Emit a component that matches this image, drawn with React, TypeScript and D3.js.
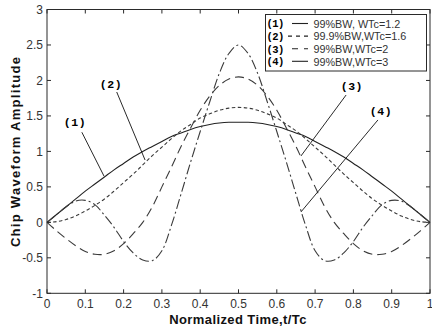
import React, { useEffect, useRef } from 'react'
import * as d3 from 'd3'

const width = 432
const height = 329
const left = 47
const right = 430
const top = 9.5
const bottom = 293.3

// normalized time t/Tc, read every 0.025
const timeSteps = [
  0, 0.025, 0.05, 0.075, 0.1, 0.125, 0.15, 0.175, 0.2, 0.225, 0.25,
  0.275, 0.3, 0.325, 0.35, 0.375, 0.4, 0.425, 0.45, 0.475, 0.5,
  0.525, 0.55, 0.575, 0.6, 0.625, 0.65, 0.675, 0.7, 0.725, 0.75,
  0.775, 0.8, 0.825, 0.85, 0.875, 0.9, 0.925, 0.95, 0.975, 1
]

// (1) 99%BW, WTc=1.2
const wave1 = [
  0, 0.11, 0.22, 0.33, 0.44, 0.54, 0.64, 0.74, 0.83, 0.92, 1.0,
  1.07, 1.14, 1.21, 1.26, 1.31, 1.35, 1.38, 1.4, 1.41, 1.41,
  1.41, 1.4, 1.38, 1.35, 1.31, 1.26, 1.21, 1.14, 1.07, 1.0,
  0.92, 0.83, 0.74, 0.64, 0.54, 0.44, 0.33, 0.22, 0.11, 0
]
// (2) 99.9%BW, WTc=1.6
const wave2 = [
  0, 0.01, 0.04, 0.09, 0.16, 0.24, 0.33, 0.44, 0.56, 0.68, 0.81,
  0.94, 1.06, 1.18, 1.29, 1.38, 1.47, 1.53, 1.58, 1.61, 1.62,
  1.61, 1.58, 1.53, 1.47, 1.38, 1.29, 1.18, 1.06, 0.94, 0.81,
  0.68, 0.56, 0.44, 0.33, 0.24, 0.16, 0.09, 0.04, 0.01, 0
]
// (3) 99%BW, WTc=2
const wave3 = [
  0, -0.12, -0.23, -0.33, -0.41, -0.45, -0.45, -0.4, -0.3, -0.16, 0,
  0.22, 0.5, 0.78, 1.07, 1.33, 1.58, 1.78, 1.93, 2.02, 2.05,
  2.02, 1.93, 1.78, 1.58, 1.33, 1.07, 0.78, 0.5, 0.22, 0,
  -0.16, -0.3, -0.4, -0.45, -0.45, -0.41, -0.33, -0.23, -0.12, 0
]
// (4) 99%BW, WTc=3
const wave4 = [
  0, 0.11, 0.22, 0.3, 0.31, 0.25, 0.1, -0.07, -0.27, -0.43, -0.53,
  -0.54, -0.4, -0.04, 0.4, 0.85, 1.28, 1.7, 2.1, 2.38, 2.5,
  2.38, 2.1, 1.7, 1.28, 0.85, 0.4, -0.04, -0.4, -0.54, -0.53,
  -0.43, -0.27, -0.07, 0.1, 0.25, 0.31, 0.3, 0.22, 0.11, 0
]

const waves = [wave1, wave2, wave3, wave4]
const tags = ['(1)', '(2)', '(3)', '(4)']
const legendNames = ['99%BW, WTc=1.2', '99.9%BW,WTc=1.6', '99%BW,WTc=2', '99%BW,WTc=3']
const dashes = ['', '3.5,2.5', '9,5', '10,3,2,3']
const legendDashes = ['', '4,4', '6,6', '']

const xTicks = [0, 0.1, 0.2, 0.3, 0.4, 0.5, 0.6, 0.7, 0.8, 0.9, 1]
const yTicks = [-1, -0.5, 0, 0.5, 1, 1.5, 2, 2.5, 3]

// callouts in data units: label spot, pointer start, pointer end
const calloutLabel = [[0.073, 1.36], [0.167, 1.887], [0.796, 1.872], [0.872, 1.513]]
const calloutFrom = [[0.091, 1.27], [0.182, 1.837], [0.781, 1.795], [0.864, 1.443]]
const calloutTo = [[0.149, 0.65], [0.256, 0.879], [0.663, 0.935], [0.663, 0.146]]

const ink = '#2a2a2a'
const sans = '"Liberation Sans", Arial, sans-serif'
const mono = '"Liberation Mono", "Courier New", monospace'

export default function App() {
  const ref = useRef<SVGSVGElement>(null)

  useEffect(() => {
    const svg = d3.select(ref.current)
    svg.selectAll('*').remove()

    const x = d3.scaleLinear().domain([0, 1]).range([left, right])
    const y = d3.scaleLinear().domain([-1, 3]).range([bottom, top])

    svg.append('rect').attr('width', width).attr('height', height).attr('fill', '#fff')

    // curves
    const line = d3.line<number>()
      .x((d, i) => x(timeSteps[i]))
      .y(d => y(d))
      .curve(d3.curveCatmullRom)

    waves.forEach((w, i) => {
      svg.append('path')
        .attr('d', line(w))
        .attr('fill', 'none')
        .attr('stroke', i === 0 ? '#222' : '#3a3a3a')
        .attr('stroke-width', 1.1)
        .attr('stroke-dasharray', dashes[i] || null)
    })

    // box + inner ticks
    const axes = svg.append('g').attr('stroke', ink).attr('stroke-width', 1)
    axes.append('rect')
      .attr('x', left).attr('y', top)
      .attr('width', right - left).attr('height', bottom - top)
      .attr('fill', 'none')
    xTicks.forEach(t => {
      axes.append('line').attr('x1', x(t)).attr('x2', x(t)).attr('y1', bottom).attr('y2', bottom - 4)
      axes.append('line').attr('x1', x(t)).attr('x2', x(t)).attr('y1', top).attr('y2', top + 4)
    })
    yTicks.forEach(v => {
      axes.append('line').attr('x1', left).attr('x2', left + 4).attr('y1', y(v)).attr('y2', y(v))
      axes.append('line').attr('x1', right).attr('x2', right - 4).attr('y1', y(v)).attr('y2', y(v))
    })

    svg.append('g').selectAll('text').data(xTicks).enter().append('text')
      .attr('x', d => x(d)).attr('y', bottom + 15)
      .attr('text-anchor', 'middle')
      .attr('font-family', sans).attr('font-size', 12).attr('fill', '#333')
      .text(d => String(d))

    svg.append('g').selectAll('text').data(yTicks).enter().append('text')
      .attr('x', left - 4).attr('y', d => y(d) + 4.3)
      .attr('text-anchor', 'end')
      .attr('font-family', sans).attr('font-size', 12).attr('fill', '#333')
      .text(d => String(d))

    // axis titles
    svg.append('text')
      .attr('x', 238).attr('y', 324)
      .attr('text-anchor', 'middle')
      .attr('font-family', sans).attr('font-size', 13).attr('font-weight', 'bold')
      .attr('letter-spacing', 0.4).attr('fill', '#111')
      .text('Normalized Time,t/Tc')

    svg.append('text')
      .attr('transform', `translate(20,${(top + bottom) / 2}) rotate(-90)`)
      .attr('text-anchor', 'middle')
      .attr('font-family', sans).attr('font-size', 13).attr('font-weight', 'bold')
      .attr('letter-spacing', 1.3).attr('fill', '#111')
      .text('Chip Waveform Amplitude')

    // callouts
    tags.forEach((tag, i) => {
      svg.append('line')
        .attr('x1', x(calloutFrom[i][0])).attr('y1', y(calloutFrom[i][1]))
        .attr('x2', x(calloutTo[i][0])).attr('y2', y(calloutTo[i][1]))
        .attr('stroke', '#111').attr('stroke-width', 0.9)
      svg.append('text')
        .attr('x', x(calloutLabel[i][0])).attr('y', y(calloutLabel[i][1]))
        .attr('text-anchor', 'middle')
        .attr('font-family', mono).attr('font-size', 11.5).attr('font-weight', 'bold')
        .attr('letter-spacing', 0.5).attr('fill', '#000')
        .text(tag)
    })

    // legend
    const lg = svg.append('g')
    lg.append('rect')
      .attr('x', 265.5).attr('y', 14.5).attr('width', 161).attr('height', 56.5)
      .attr('fill', '#fff').attr('stroke', ink).attr('stroke-width', 1)
    legendNames.forEach((name, i) => {
      const cy = 23.5 + i * 12.6
      lg.append('text')
        .attr('x', 266.5).attr('y', cy + 3.8)
        .attr('font-family', mono).attr('font-size', 10.5).attr('font-weight', 'bold')
        .attr('letter-spacing', -0.6).attr('fill', '#000')
        .text(tags[i])
      lg.append('line')
        .attr('x1', i === 1 ? 288 : 292).attr('x2', i === 1 ? 311 : 308)
        .attr('y1', cy).attr('y2', cy)
        .attr('stroke', '#222').attr('stroke-width', 1.1)
        .attr('stroke-dasharray', legendDashes[i] || null)
      lg.append('text')
        .attr('x', 313.5).attr('y', cy + 4.2)
        .attr('font-family', sans).attr('font-size', 10.8).attr('fill', '#333')
        .text(name)
    })
  }, [])

  return (
    <svg ref={ref} width={width} height={height}
      style={{ position: 'absolute', left: 0, top: 0, display: 'block' }} />
  )
}
